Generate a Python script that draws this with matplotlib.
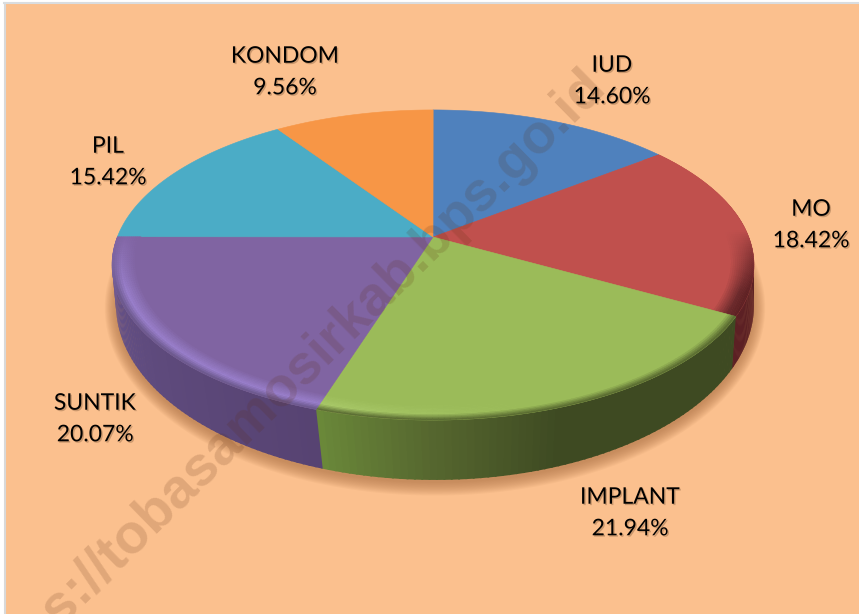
import numpy as np
import matplotlib
matplotlib.use("Agg")
import matplotlib.pyplot as plt
import matplotlib.patheffects as pe
from matplotlib.colors import to_rgb

# Data
labels = ["IUD", "MO", "IMPLANT", "SUNTIK", "PIL", "KONDOM"]
values = [14.60, 18.42, 21.94, 20.07, 15.42, 9.56]
face_colors = ["#4f81bd", "#c0504d", "#9bbb59", "#8064a2", "#4bacc6", "#f79646"]
label_pos = [(612, 81), (811, 225), (630, 513), (95, 419), (108, 162), (285, 72)]

plt.rcParams["font.family"] = ["Lato", "DejaVu Sans"]

W, H = 859, 614
fig = plt.figure(figsize=(W / 100, H / 100), dpi=100)
ax = fig.add_axes([0, 0, 1, 1])
ax.set_xlim(0, W)
ax.set_ylim(H, 0)
ax.axis("off")
fig.patch.set_facecolor("#ffffff")

# Background panel with thin grey frame
ax.fill([4, W, W, 4], [3, 3, H, H], color="#fbc08e", lw=0, zorder=0)
ax.plot([4.5, 4.5], [3, H], color="#d9d9d9", lw=1.5, zorder=1)
ax.plot([4, W], [2.5, 2.5], color="#d9dde0", lw=1.5, zorder=1)


def project(theta, r=1.0, cx=433, cy=237, a=315.7, b=150.0, k=0.1806):
    # disc seen in perspective, theta clockwise from 12 o'clock
    u = r * np.sin(theta)
    v = r * np.cos(theta)
    w = 1 + k * v
    return cx + a * u / w, cy - b * v / w


def project_bottom(theta):
    return project(theta, cx=435, cy=279.6, a=315.6, b=171.3, k=0.145)


def mix(c1, c2, t):
    c1, c2 = np.array(to_rgb(c1)), np.array(to_rgb(c2))
    return tuple(c1 + (c2 - c1) * np.clip(t, 0, 1))


edges = np.radians(np.cumsum([0] + values) * 3.6)

# Soft shadow under the body
t = np.linspace(0, 2 * np.pi, 240)
bx, by = project_bottom(t)
for g in np.linspace(1.16, 1.0, 12):
    ax.fill(435 + (bx - 435) * (1 + (g - 1) * 0.22), 305 + (by - 305) * (1 + (g - 1) * 0.45) + 3,
            color="#a86c40", alpha=0.065, lw=0, zorder=2)

# Side wall colours along the angle (deg, colour)
side_stops = {
    1: [(75, "#8a3a3a"), (95, "#5a1f22"), (118.9, "#5c2024")],
    2: [(118.9, "#3e4a22"), (160, "#3e4a22"), (180, "#56672f"), (197.9, "#6b8a3a")],
    3: [(197.9, "#574372"), (235, "#5f4b7e"), (255, "#67538a"), (272, "#7a63a3")],
}
for i, stops in side_stops.items():
    a0 = max(np.degrees(edges[i]), 75)
    a1 = min(np.degrees(edges[i + 1]), 272)
    grid = np.linspace(a0, a1, 70)
    sd, sc = zip(*stops)
    rgb = np.array([to_rgb(c) for c in sc])
    for d0, d1 in zip(grid[:-1], grid[1:]):
        th = np.radians([d0, d1 + 0.3])
        x1, y1 = project(th)
        x2, y2 = project_bottom(th)
        col = [np.interp(d0, sd, rgb[:, n]) for n in range(3)]
        ax.fill(np.r_[x1, x2[::-1]], np.r_[y1, y2[::-1]], color=col, lw=0, zorder=3)

# Top face
for i, c in enumerate(face_colors):
    th = np.linspace(edges[i], edges[i + 1], 120)
    x, y = project(th)
    ax.fill(np.r_[433, x], np.r_[237, y], color=c, lw=0.4, ec=c, zorder=4)

# Bevel along the rim: face colour, then glow, then into the side colour
bevel_glow = {1: "#6a2a2c", 2: "#a8c868", 3: "#9a80cc"}
bevel_edge = {1: "#5a1f22", 2: "#4a5828", 3: "#62507f"}
radii = np.linspace(0.925, 1.0, 13)
for i, glow in bevel_glow.items():
    th = np.linspace(edges[i], edges[i + 1], 90)
    # the rim effect grows towards the front of the disc
    front = np.clip((-np.cos(th) + 0.05) / 0.4, 0, 1)
    for r0, r1 in zip(radii[:-1], radii[1:]):
        tt = (r0 - radii[0]) / (radii[-1] - radii[0])
        for j in range(len(th) - 1):
            xa, ya = project(th[j:j + 2], r0)
            xb, yb = project(th[j:j + 2], r1)
            # strength of the glow fades over the green wedge towards the right
            glow_amt = 1.0
            if i == 2:
                glow_amt = np.clip((np.degrees(th[j]) - 165) / 30, 0, 1)
            if tt < 0.6:
                col = mix(face_colors[i], glow, tt / 0.6 * front[j] * glow_amt)
            else:
                base = mix(face_colors[i], glow, front[j] * glow_amt)
                col = mix(base, bevel_edge[i], (tt - 0.6) / 0.4 * front[j])
            ax.fill(np.r_[xa, xb[::-1]], np.r_[ya, yb[::-1]], color=col, lw=0.3, ec=col, zorder=5)

# Watermark
ax.text(597, 78, "https://tobasamosirkab.bps.go.id", rotation=44.5, rotation_mode="anchor",
        ha="right", va="center", fontsize=40, fontweight="bold", family="Liberation Sans",
        color="#5a2c10", alpha=0.17, zorder=7, clip_on=True)

# Data labels
for name, val, (x, y) in zip(labels, values, label_pos):
    ax.text(x, y, f"{name}\n{val:.2f}%", ha="center", va="center", fontsize=16.5, color="black",
            linespacing=1.62, zorder=8,
            path_effects=[pe.SimplePatchShadow(offset=(1, -1), alpha=0.3, shadow_rgbFace="#5a3a20"), pe.Normal()])

fig.savefig("out.png", dpi=100, facecolor=fig.get_facecolor())
